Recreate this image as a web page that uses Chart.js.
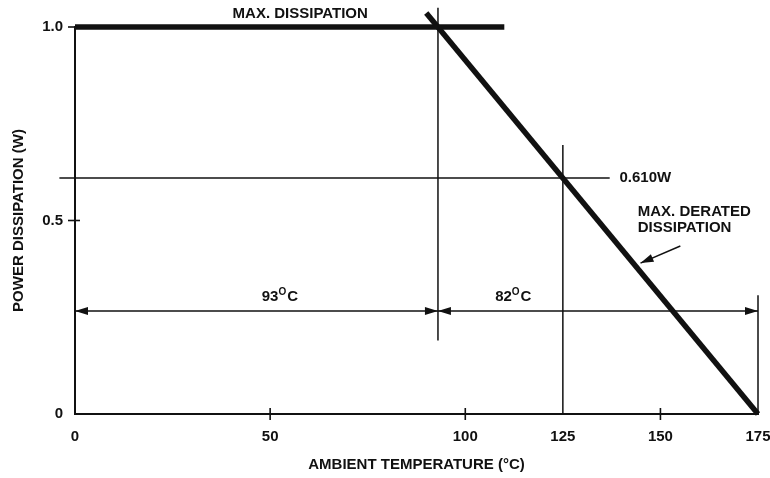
<!DOCTYPE html>
<html>
<head>
<meta charset="utf-8">
<script src="https://cdn.jsdelivr.net/npm/chart.js@4.4.1/dist/chart.umd.min.js"></script>
<style>
    html, body { margin: 0; padding: 0; background: #fff; }
    #wrap { width: 770px; height: 478px; }
</style>
</head>
<body>
<div id="wrap"><canvas id="deratingChart" width="770" height="478"></canvas></div>
<script>
// Axis ticks
const xTicks = [0, 50, 100, 125, 150, 175];
const yTicks = [0, 0.5, 1.0];
const xCrossTicks = [50, 100, 150];
const yCrossTicks = [0.5, 1.0];

// Heavy curves
const maxDissX = [0, 110];
const maxDissY = [1.0, 1.0];
const deratedX = [90, 175];
const deratedY = [1.036, 0];

// Thin construction lines
const line93X = [93, 93];
const line93Y = [1.05, 0.19];
const line125X = [125, 125];
const line125Y = [0.695, 0];
const line175X = [175, 175];
const line175Y = [0.307, 0];
const line610X = [-4, 137];
const line610Y = [0.61, 0.61];

// Dimension arrows
const span93X = [0, 93];
const span82X = [93, 175];
const spanY = [0.266, 0.266];
const pointerX = [155.1, 144.9];
const pointerY = [0.434, 0.39];

const FONT = '"Liberation Sans", Arial, Helvetica, sans-serif';
const INK = '#111';

function pts(xs, ys) {
    return xs.map((x, i) => ({ x: x, y: ys[i] }));
}

function lineSet(xs, ys, width, arrows) {
    return {
        data: pts(xs, ys),
        showLine: true,
        borderColor: INK,
        borderWidth: width,
        pointRadius: 0,
        borderCapStyle: 'butt',
        clip: false,
        arrows: arrows || null
    };
}

// Text notes anchored in data units
const notes = [
    { parts: ['MAX. DISSIPATION'], x: 57.7, y: 1.034, align: 'center' },
    { parts: ['0.610W'], x: 139.5, y: 0.61, align: 'left' },
    { parts: ['MAX. DERATED'], x: 144.2, y: 0.522, align: 'left' },
    { parts: ['DISSIPATION'], x: 144.2, y: 0.482, align: 'left' },
    { parts: ['93', 'O', 'C'], x: 52.5, y: 0.302, align: 'center' },
    { parts: ['82', 'O', 'C'], x: 112.3, y: 0.302, align: 'center' }
];

function arrowHead(ctx, from, to) {
    const ang = Math.atan2(to.y - from.y, to.x - from.x);
    const len = 13, half = 4;
    ctx.save();
    ctx.translate(to.x, to.y);
    ctx.rotate(ang);
    ctx.beginPath();
    ctx.moveTo(0, 0);
    ctx.lineTo(-len, -half);
    ctx.lineTo(-len, half);
    ctx.closePath();
    ctx.fill();
    ctx.restore();
}

function drawNote(ctx, note, px, py) {
    const main = 'bold 15px ' + FONT;
    const sup = 'bold 10px ' + FONT;
    const widths = note.parts.map((p, i) => {
        ctx.font = (note.parts.length === 3 && i === 1) ? sup : main;
        return ctx.measureText(p).width + (note.parts.length === 3 && i === 1 ? 1 : 0);
    });
    const total = widths.reduce((a, b) => a + b, 0);
    let x = note.align === 'center' ? px - total / 2 : px;
    ctx.textBaseline = 'middle';
    ctx.textAlign = 'left';
    note.parts.forEach((p, i) => {
        const isSup = note.parts.length === 3 && i === 1;
        ctx.font = isSup ? sup : main;
        ctx.fillText(p, x, isSup ? py - 5 : py);
        x += widths[i];
    });
}

const decorations = {
    id: 'decorations',
    afterDatasetsDraw(chart) {
        const ctx = chart.ctx;
        const xs = chart.scales.x;
        const ys = chart.scales.y;
        ctx.save();
        ctx.fillStyle = INK;
        ctx.strokeStyle = INK;

        // arrowheads on flagged datasets
        chart.data.datasets.forEach((ds, i) => {
            if (!ds.arrows) return;
            const els = chart.getDatasetMeta(i).data;
            const a = { x: els[0].x, y: els[0].y };
            const b = { x: els[els.length - 1].x, y: els[els.length - 1].y };
            if (ds.arrows === 'both' || ds.arrows === 'end') arrowHead(ctx, a, b);
            if (ds.arrows === 'both') arrowHead(ctx, b, a);
        });

        // tick marks crossing the axes
        ctx.lineWidth = 1.6;
        const bottom = ys.getPixelForValue(0);
        const left = xs.getPixelForValue(0);
        xCrossTicks.forEach(v => {
            const px = xs.getPixelForValue(v);
            ctx.beginPath();
            ctx.moveTo(px, bottom - 6);
            ctx.lineTo(px, bottom + 6);
            ctx.stroke();
        });
        yCrossTicks.forEach(v => {
            const py = ys.getPixelForValue(v);
            ctx.beginPath();
            ctx.moveTo(left - 7, py);
            ctx.lineTo(left + (v === 1.0 ? 0 : 5), py);
            ctx.stroke();
        });

        notes.forEach(n => drawNote(ctx, n, xs.getPixelForValue(n.x), ys.getPixelForValue(n.y)));
        ctx.restore();
    }
};

new Chart(document.getElementById('deratingChart'), {
    type: 'scatter',
    data: {
        datasets: [
            lineSet(line93X, line93Y, 1.5),
            lineSet(line125X, line125Y, 1.5),
            lineSet(line175X, line175Y, 1.5),
            lineSet(line610X, line610Y, 1.5),
            lineSet(span93X, spanY, 1.5, 'both'),
            lineSet(span82X, spanY, 1.5, 'both'),
            lineSet(pointerX, pointerY, 1.5, 'end'),
            lineSet(maxDissX, maxDissY, 5.5),
            lineSet(deratedX, deratedY, 5.5)
        ]
    },
    options: {
        responsive: false,
        animation: false,
        layout: { padding: { top: 27, right: 12, left: 0, bottom: 0 } },
        plugins: {
            legend: { display: false },
            tooltip: { enabled: false }
        },
        scales: {
            x: {
                type: 'linear',
                min: 0,
                max: 175,
                afterBuildTicks: s => { s.ticks = xTicks.map(v => ({ value: v })); },
                afterFit: s => { s.height = 64; s.paddingLeft = 0; s.paddingRight = 0; },
                grid: { display: false, drawTicks: false },
                border: { display: true, color: INK, width: 2 },
                ticks: {
                    color: INK,
                    padding: 14,
                    maxRotation: 0,
                    font: { family: FONT, size: 15, weight: 'bold' },
                    callback: v => String(v)
                },
                title: {
                    display: true,
                    text: 'AMBIENT TEMPERATURE (°C)',
                    color: INK,
                    padding: { top: 0, bottom: 4 },
                    font: { family: FONT, size: 15, weight: 'bold' }
                }
            },
            y: {
                type: 'linear',
                min: 0,
                max: 1,
                afterBuildTicks: s => { s.ticks = yTicks.map(v => ({ value: v })); },
                afterFit: s => { s.width = 75; s.paddingTop = 0; s.paddingBottom = 0; },
                grid: { display: false, drawTicks: false },
                border: { display: true, color: INK, width: 2 },
                ticks: {
                    color: INK,
                    padding: 12,
                    font: { family: FONT, size: 15, weight: 'bold' },
                    callback: v => (v === 0 ? '0' : v.toFixed(1))
                },
                title: {
                    display: true,
                    text: 'POWER DISSIPATION (W)',
                    color: INK,
                    padding: { top: 10, bottom: 0 },
                    font: { family: FONT, size: 15, weight: 'bold' }
                }
            }
        }
    },
    plugins: [decorations]
});
</script>
</body>
</html>
